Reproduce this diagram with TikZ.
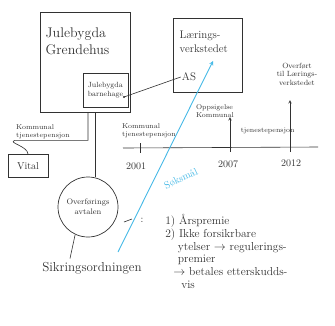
\documentclass[tikz,border=0pt]{standalone}
\usepackage{amssymb, amsmath}
\usepackage{tikz}
\usetikzlibrary{positioning}
\definecolor{pencil}{RGB}{50, 50, 50}
\definecolor{suitblue}{RGB}{70, 185, 230}

\begin{document}
\begin{tikzpicture}[x=1pt, y=-1pt, line width=0.6, draw=pencil,
  every node/.style={text=pencil},
  sketchbox/.style={draw=pencil, line width=0.7, inner sep=0},
  tiny/.style={font=\fontsize{7}{8}\selectfont, align=left, inner sep=1},
  year/.style={font=\fontsize{10}{11}\selectfont, inner sep=1}]

  \useasboundingbox (0, 0) rectangle (335, 325);

  % boxes at the top
  \node[sketchbox, minimum width=90, minimum height=100] (hall) at (85, 62) {};
  \node[anchor=north west, align=left, font=\fontsize{14}{17}\selectfont]
    (hallname) at (42, 24) { Julebygda\\ Grendehus };

  \node[sketchbox, minimum width=45, minimum height=34, align=left,
    font=\fontsize{7.5}{9}\selectfont] (kinder) at (105.5, 90) { Julebygda\\ barnehage };
  \coordinate (kdot) at (124, 97);
  \fill[pencil] (kdot) circle (1.2);

  \node[sketchbox, minimum width=69, minimum height=74] (lab) at (207.5, 55) {};
  \node[align=left, font=\fontsize{11}{14}\selectfont, anchor=north west]
    (labname) at (176, 27) { Lærings-\\ verkstedet };
  \node[font=\fontsize{11}{13}\selectfont, inner sep=1] (as) at (189, 77) { AS };

  \draw (kdot) -- (as.west);

  % time line
  \coordinate (t0) at (123, 148);
  \coordinate (t1) at (318, 147);
  \draw (t0) -- (t1);

  \draw (140, 143) -- (140, 153);
  \node[year] (y2001) at (136, 166) { 2001 };
  \node[tiny] (kom2001) at (149, 131) { Kommunal\\ tjenestepensjon };

  \draw[->, >=stealth] (230, 152) -- (230, 117);
  \node[year] (y2007) at (228, 164) { 2007 };
  \node[tiny] (opp) at (215, 111) { Oppsigelse\\ Kommunal };
  \node[tiny] (tjp) at (269, 131) { tjenestepensjon };

  \draw[->, >=stealth] (290, 152) -- (290, 100);
  \node[year] (y2012) at (291, 163) { 2012 };
  \node[tiny, align=center, font=\fontsize{7.5}{8.5}\selectfont]
    (moved) at (297, 74) { Overført\\ til Lærings-\\ verkstedet };

  % left branch
  \node[tiny] (komleft) at (43, 132) { Kommunal\\ tjenestepensjon };
  \node[sketchbox, minimum width=40, minimum height=23,
    font=\fontsize{10}{11}\selectfont] (vital) at (28, 166) { Vital };
  \draw ([xshift=3]hall.south) |- (komleft.south west)
    .. controls +(-8, 2) and +(0, -8) .. (vital.north);

  \node[sketchbox, circle, minimum size=60, align=center,
    font=\fontsize{8}{10}\selectfont] (deal) at (88, 207) { Overførings\\ avtalen };
  \draw ([xshift=10]hall.south) -- ([xshift=7]deal.north);

  \node[font=\fontsize{13}{15}\selectfont] (sikring) at (92, 268) { Sikringsordningen };
  \draw (deal.245) -- ([xshift=-22]sikring.north);

  % the lawsuit
  \coordinate (suit0) at (118, 252);
  \draw[suitblue, line width=0.9, ->, >=stealth]
    (suit0) -- ([shift={(5.5, 6)}]lab.center);
  \node[text=suitblue, rotate=25, font=\fontsize{10}{11}\selectfont]
    (suitname) at (181, 179) { Søksmål };

  \draw (124, 222) -- (132, 219);
  \node[font=\fontsize{10}{11}\selectfont] (colon) at (142, 220) { : };
  \node[anchor=north west, align=left, inner sep=0,
    font=\fontsize{11.5}{12.8}\selectfont] (claims) at (165, 214) {
    1) Årspremie\\
    2) Ikke forsikrbare\\
    \hspace{1.1em}ytelser $\to$ regulerings-\\
    \hspace{1.1em}premier\\
    \hspace{0.7em}$\to$ betales etterskudds-\\
    \hspace{1.4em}vis };

\end{tikzpicture}
\end{document}
